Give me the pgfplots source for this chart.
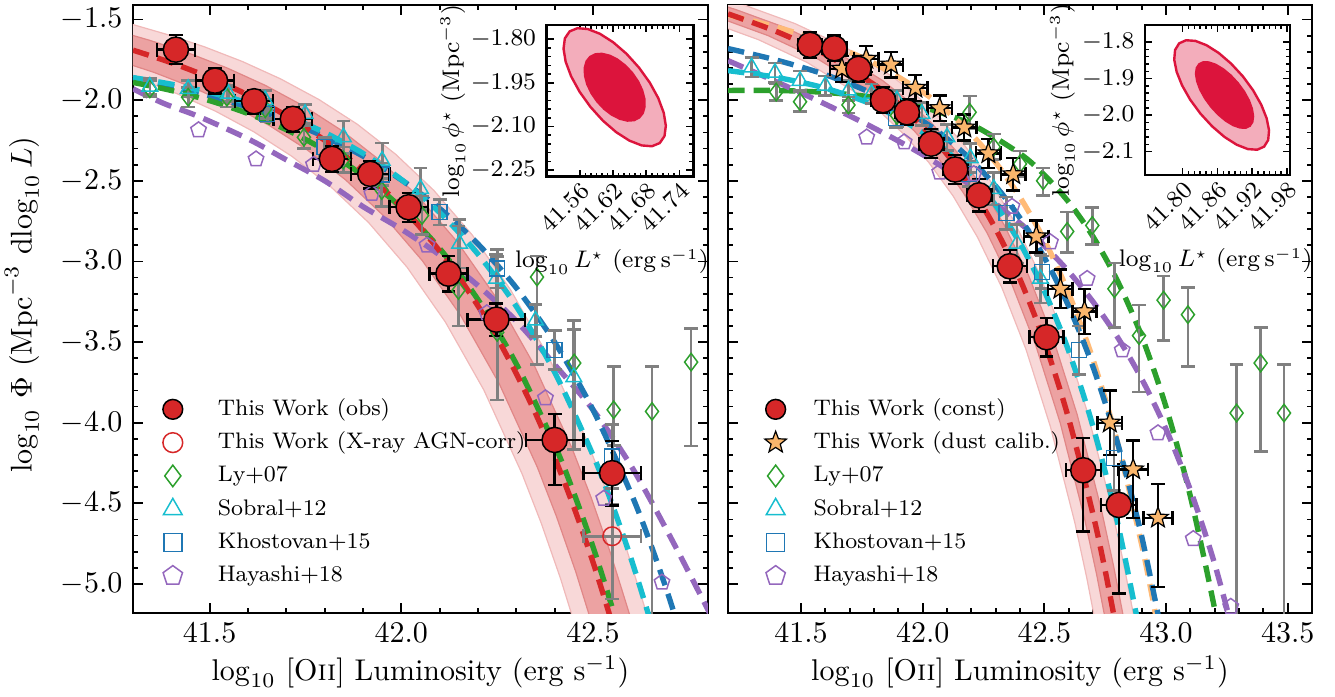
\documentclass[border=0pt]{standalone}
\usepackage{pgfplots}
\usepackage{pgfplotstable}
\pgfplotsset{compat=1.18}
\usetikzlibrary{plotmarks}

\definecolor{tred}{HTML}{D62728}
\definecolor{tgreen}{HTML}{2CA02C}
\definecolor{tcyan}{HTML}{17BECF}
\definecolor{tblue}{HTML}{1F77B4}
\definecolor{tpurple}{HTML}{9467BD}
\definecolor{torange}{HTML}{FFBB78}
\definecolor{tstar}{RGB}{250,182,108}
\definecolor{crimson}{HTML}{DC143C}
\definecolor{errgray}{HTML}{808080}
\definecolor{bandlight}{RGB}{248,216,216}
\definecolor{bandlightedge}{RGB}{240,185,185}
\definecolor{banddark}{RGB}{236,162,162}
\definecolor{banddarkedge}{RGB}{225,135,135}

\pgfdeclareplotmark{fstar}{%
  \pgfpathmoveto{\pgfqpointpolar{90}{\pgfplotmarksize}}%
  \pgfpathlineto{\pgfqpointpolar{126}{0.42\pgfplotmarksize}}%
  \pgfpathlineto{\pgfqpointpolar{162}{\pgfplotmarksize}}%
  \pgfpathlineto{\pgfqpointpolar{198}{0.42\pgfplotmarksize}}%
  \pgfpathlineto{\pgfqpointpolar{234}{\pgfplotmarksize}}%
  \pgfpathlineto{\pgfqpointpolar{270}{0.42\pgfplotmarksize}}%
  \pgfpathlineto{\pgfqpointpolar{306}{\pgfplotmarksize}}%
  \pgfpathlineto{\pgfqpointpolar{342}{0.42\pgfplotmarksize}}%
  \pgfpathlineto{\pgfqpointpolar{18}{\pgfplotmarksize}}%
  \pgfpathlineto{\pgfqpointpolar{54}{0.42\pgfplotmarksize}}%
  \pgfpathclose\pgfusepathqfillstroke}

\pgfplotsset{
  mainax/.style={
    scale only axis, height=202.67pt, anchor=north west,
    ymin=-5.18, ymax=-1.41,
    ytick={-5,-4.5,-4,-3.5,-3,-2.5,-2,-1.5},
    minor x tick num=4, minor y tick num=4,
    tick align=inside,
    major tick length=3.2pt, minor tick length=1.8pt,
    every tick/.style={black, line width=0.6pt},
    axis line style={line width=0.9pt},
    tick label style={font=\fontsize{10}{12}\selectfont},
    label style={font=\fontsize{10}{12}\selectfont},
    xticklabel style={/pgf/number format/.cd, fixed, fixed zerofill, precision=1},
    yticklabel style={/pgf/number format/.cd, fixed, fixed zerofill, precision=1},
    scaled ticks=false,
    xlabel={$\log_{10}$ [O\textsc{ii}] Luminosity (erg s$^{-1}$)},
    xlabel style={at={(axis description cs:0.5,-0.097)}, anchor=center},
    legend cell align=left,
    legend style={draw=none, fill=none, font=\fontsize{7.5}{9}\selectfont,
      anchor=south west, inner sep=0pt, row sep=0.9pt,
      nodes={inner sep=1.5pt, text height=5.6pt, text depth=1.6pt}},
  },
  inset/.style={
    scale only axis, anchor=north west, clip=false,
    axis background/.style={fill=white},
    tick align=inside,
    minor x tick num=5, minor y tick num=4,
    major tick length=2.4pt, minor tick length=1.3pt,
    every tick/.style={black, line width=0.5pt},
    axis line style={line width=0.9pt},
    tick label style={font=\fontsize{7.8}{9}\selectfont},
    label style={font=\fontsize{7.8}{9}\selectfont},
    xticklabel style={rotate=45, anchor=north east, inner sep=1pt,
      /pgf/number format/.cd, fixed, fixed zerofill, precision=2},
    scaled ticks=false,
    xlabel={$\log_{10}L^{\star}\ (\mathrm{erg\,s^{-1}})$},
  },
  curve/.style={forget plot, smooth, line width=1.8pt, dash pattern=on 5.5pt off 3pt},
  errbl/.style={
    /pgfplots/error bars/x dir=both, /pgfplots/error bars/x explicit,
    /pgfplots/error bars/y dir=both, /pgfplots/error bars/y explicit,
    /pgfplots/error bars/error bar style={draw=black, line width=0.8pt, solid},
    /pgfplots/error bars/error mark options={rotate=90, draw=black, line width=0.8pt, mark size=2.3pt, solid}},
  errgr/.style={
    /pgfplots/error bars/y dir=both, /pgfplots/error bars/y explicit,
    /pgfplots/error bars/error bar style={draw=errgray, line width=0.9pt, solid},
    /pgfplots/error bars/error mark options={rotate=90, draw=errgray, line width=0.9pt, mark size=2.3pt, solid}},
  errgrx/.style={
    /pgfplots/error bars/x dir=both, /pgfplots/error bars/x explicit,
    /pgfplots/error bars/y dir=both, /pgfplots/error bars/y explicit,
    /pgfplots/error bars/error bar style={draw=errgray, line width=0.9pt, solid},
    /pgfplots/error bars/error mark options={rotate=90, draw=errgray, line width=0.9pt, mark size=2.3pt, solid}},
}

% ---------------- data: left panel ----------------
\pgfplotstableread{
x y ex p m
41.412 -1.687 0.05 0.09 0.09
41.514 -1.879 0.05 0.08 0.08
41.616 -2.007 0.05 0.07 0.08
41.717 -2.116 0.05 0.07 0.08
41.819 -2.364 0.05 0.08 0.08
41.919 -2.457 0.05 0.08 0.09
42.019 -2.664 0.05 0.09 0.09
42.123 -3.076 0.05 0.11 0.11
42.248 -3.361 0.075 0.10 0.10
42.400 -4.107 0.075 0.16 0.28
42.550 -4.313 0.075 0.20 0.20
}\obsL
\pgfplotstableread{
x y ex p m
42.550 -4.704 0.075 0.20 0.39
}\agnL
\pgfplotstableread{
x y p m
41.344 -1.930 0.05 0.05
41.444 -1.982 0.06 0.06
41.545 -1.982 0.06 0.06
41.645 -2.054 0.06 0.06
41.746 -2.230 0.07 0.07
41.849 -2.370 0.08 0.08
41.949 -2.560 0.10 0.10
42.054 -2.715 0.12 0.12
42.149 -3.180 0.40 0.22
42.250 -3.440 0.47 0.42
42.354 -3.097 0.13 0.54
42.451 -3.630 0.21 0.54
42.554 -3.920 0.27 0.22
42.654 -3.930 0.28 1.50
42.756 -3.624 0.21 0.52
}\lyL
\pgfplotstableread{
x y p m
41.344 -1.916 0.05 0.05
41.444 -1.930 0.05 0.05
41.549 -1.960 0.05 0.05
41.645 -2.000 0.06 0.06
41.749 -2.085 0.06 0.06
41.849 -2.230 0.10 0.10
41.950 -2.375 0.11 0.11
42.050 -2.550 0.13 0.13
42.152 -2.890 0.15 0.15
42.248 -3.107 0.15 0.15
42.350 -3.366 0.10 0.10
42.450 -3.717 0.35 0.45
}\soL
\pgfplotstableread{
x y p m
41.65 -2.085 0.05 0.05
41.80 -2.290 0.06 0.06
41.95 -2.460 0.07 0.07
42.10 -2.694 0.08 0.08
42.25 -3.045 0.12 0.12
42.40 -3.550 0.12 0.12
42.55 -4.210 0.20 0.20
}\khL
\pgfplotstableread{
x y
41.471 -2.185
41.621 -2.366
41.771 -2.400
41.923 -2.580
42.067 -2.900
42.223 -3.320
42.376 -3.847
42.528 -4.470
42.680 -4.990
}\haL

% ---------------- data: right panel ----------------
\pgfplotstableread{
x y ex p m
41.537 -1.657 0.05 0.08 0.08
41.637 -1.678 0.05 0.08 0.08
41.736 -1.806 0.05 0.08 0.08
41.837 -2.000 0.05 0.08 0.08
41.935 -2.075 0.05 0.08 0.08
42.035 -2.270 0.05 0.09 0.09
42.134 -2.430 0.05 0.09 0.09
42.232 -2.590 0.05 0.10 0.10
42.358 -3.030 0.07 0.10 0.10
42.509 -3.470 0.07 0.12 0.12
42.660 -4.295 0.072 0.20 0.38
42.806 -4.510 0.072 0.24 0.55
}\obsR
\pgfplotstableread{
x y ex p m
41.668 -1.806 0.05 0.08 0.08
41.768 -1.744 0.05 0.08 0.08
41.870 -1.780 0.05 0.08 0.08
41.970 -1.924 0.05 0.08 0.08
42.070 -2.050 0.05 0.08 0.08
42.171 -2.170 0.05 0.08 0.08
42.270 -2.330 0.05 0.09 0.09
42.372 -2.460 0.05 0.10 0.10
42.467 -2.845 0.05 0.10 0.10
42.566 -3.170 0.05 0.12 0.12
42.665 -3.310 0.05 0.14 0.14
42.769 -4.000 0.05 0.20 0.20
42.865 -4.290 0.06 0.18 0.30
42.967 -4.590 0.06 0.21 0.43
}\dustR
\pgfplotstableread{
x y p m
41.398 -1.950 0.05 0.05
41.496 -2.010 0.06 0.06
41.695 -2.030 0.05 0.05
41.894 -2.095 0.07 0.07
42.193 -2.075 0.10 0.10
42.292 -2.290 0.08 0.08
42.400 -2.395 0.08 0.08
42.495 -2.500 0.08 0.09
42.594 -2.814 0.12 0.13
42.697 -2.777 0.11 0.12
42.788 -3.170 0.16 0.24
42.889 -3.460 0.19 0.35
42.990 -3.240 0.15 0.25
43.090 -3.330 0.17 0.32
43.290 -3.940 0.30 1.50
43.389 -3.630 0.22 0.55
43.485 -3.940 0.30 1.50
}\lyR
\pgfplotstableread{
x y p m
41.297 -1.796 0.06 0.06
41.393 -1.830 0.06 0.06
41.496 -1.880 0.06 0.06
41.600 -1.910 0.06 0.06
41.695 -1.940 0.06 0.06
41.790 -1.960 0.06 0.06
41.894 -2.000 0.06 0.06
41.997 -2.085 0.07 0.07
42.100 -2.230 0.08 0.08
42.196 -2.360 0.09 0.09
42.292 -2.550 0.10 0.10
42.388 -2.890 0.12 0.12
42.484 -3.107 0.15 0.15
}\soR
\pgfplotstableread{
x y p m
41.890 -2.110 0.06 0.06
42.040 -2.250 0.07 0.07
42.190 -2.457 0.08 0.08
42.344 -2.700 0.10 0.10
42.490 -3.066 0.10 0.10
42.642 -3.550 0.15 0.15
42.786 -4.220 0.20 0.20
}\khR
\pgfplotstableread{
x y
41.770 -2.230
41.924 -2.260
42.070 -2.447
42.210 -2.457
42.367 -2.660
42.525 -2.880
42.676 -3.107
42.820 -3.550
42.967 -4.064
43.112 -4.720
43.266 -5.140
}\haR

\begin{document}
\begin{tikzpicture}
\useasboundingbox (0,0) rectangle (445pt,-232.33pt);

% =================== LEFT PANEL ===================
\begin{axis}[mainax, at={(44.33pt,-1.67pt)}, width=191.67pt,
  xmin=41.3, xmax=42.8, xtick={41.5,42.0,42.5},
  ylabel={$\log_{10}\,\Phi\ (\mathrm{Mpc}^{-3}\ \mathrm{dlog}_{10}\,L)$},
  ylabel style={at={(axis description cs:-0.193,0.507)}, anchor=center},
  legend style={at={(0.051,0.035)}, /tikz/every odd column/.append style={column sep=10.2pt}}]
% confidence bands
\addplot[forget plot, fill=bandlight, draw=bandlightedge, line width=0.4pt] coordinates {
(41.285,-1.521)(41.385,-1.590)(41.485,-1.668)(41.585,-1.760)(41.685,-1.868)(41.785,-1.996)(41.885,-2.149)(41.985,-2.335)(42.085,-2.560)(42.185,-2.836)(42.285,-3.176)(42.385,-3.596)(42.485,-4.117)(42.535,-4.423)(42.585,-4.764)(42.635,-5.146)(42.685,-5.573)
(42.515,-5.773)(42.465,-5.346)(42.415,-4.964)(42.365,-4.623)(42.315,-4.317)(42.215,-3.796)(42.115,-3.376)(42.015,-3.036)(41.915,-2.760)(41.815,-2.535)(41.715,-2.349)(41.615,-2.196)(41.515,-2.068)(41.415,-1.960)(41.315,-1.868)(41.215,-1.790)(41.115,-1.721)
} -- cycle;
\addplot[forget plot, fill=banddark, draw=banddarkedge, line width=0.4pt] coordinates {
(41.245,-1.561)(41.345,-1.630)(41.445,-1.708)(41.545,-1.800)(41.645,-1.908)(41.745,-2.036)(41.845,-2.189)(41.945,-2.375)(42.045,-2.600)(42.145,-2.876)(42.245,-3.216)(42.345,-3.636)(42.445,-4.157)(42.495,-4.463)(42.545,-4.804)(42.595,-5.186)(42.645,-5.613)
(42.555,-5.733)(42.505,-5.306)(42.455,-4.924)(42.405,-4.583)(42.355,-4.277)(42.255,-3.756)(42.155,-3.336)(42.055,-2.996)(41.955,-2.720)(41.855,-2.495)(41.755,-2.309)(41.655,-2.156)(41.555,-2.028)(41.455,-1.920)(41.355,-1.828)(41.255,-1.750)(41.155,-1.681)
} -- cycle;
% fitted curves
\addplot[curve, tpurple] coordinates {(41.3,-1.93)(41.38,-2.02)(41.47,-2.10)(41.6,-2.24)(41.7,-2.37)(41.8,-2.50)(41.9,-2.66)(42.0,-2.80)(42.1,-2.96)(42.2,-3.15)(42.3,-3.37)(42.4,-3.64)(42.5,-3.92)(42.6,-4.27)(42.7,-4.70)(42.8,-5.16)(42.85,-5.40)};
\addplot[curve, tblue] coordinates {(41.3,-1.862)(41.4,-1.914)(41.5,-1.974)(41.6,-2.044)(41.7,-2.127)(41.8,-2.227)(41.9,-2.347)(42.0,-2.494)(42.1,-2.672)(42.2,-2.892)(42.3,-3.164)(42.4,-3.501)(42.5,-3.920)(42.6,-4.442)(42.65,-4.750)(42.7,-5.094)(42.75,-5.480)};
\addplot[curve, tcyan] coordinates {(41.3,-1.860)(41.4,-1.901)(41.5,-1.952)(41.6,-2.017)(41.7,-2.098)(41.8,-2.201)(41.9,-2.330)(42.0,-2.492)(42.1,-2.697)(42.2,-2.955)(42.3,-3.279)(42.4,-3.687)(42.5,-4.201)(42.55,-4.506)(42.6,-4.848)(42.65,-5.232)(42.7,-5.663)};
\addplot[curve, tgreen] coordinates {(41.3,-1.890)(41.4,-1.940)(41.5,-2.003)(41.6,-2.083)(41.7,-2.183)(41.8,-2.310)(41.9,-2.468)(42.0,-2.668)(42.1,-2.920)(42.2,-3.237)(42.3,-3.636)(42.4,-4.138)(42.45,-4.436)(42.5,-4.770)(42.55,-5.146)(42.6,-5.567)};
\addplot[curve, tred] coordinates {(41.3,-1.690)(41.4,-1.768)(41.5,-1.860)(41.6,-1.968)(41.7,-2.096)(41.8,-2.249)(41.9,-2.435)(42.0,-2.660)(42.05,-2.791)(42.1,-2.936)(42.15,-3.097)(42.2,-3.276)(42.25,-3.474)(42.3,-3.696)(42.35,-3.942)(42.4,-4.217)(42.45,-4.523)(42.5,-4.864)(42.55,-5.246)(42.6,-5.673)};
% literature points
\addplot[forget plot, only marks, mark=diamond, mark size=2.9pt, mark options={draw=tgreen, fill=none, line width=0.5pt}, errgr] table[x=x,y=y,y error plus=p,y error minus=m] {\lyL};
\addplot[forget plot, only marks, mark=triangle, mark size=3pt, mark options={draw=tcyan, fill=none, line width=0.5pt}, errgr] table[x=x,y=y,y error plus=p,y error minus=m] {\soL};
\addplot[forget plot, only marks, mark=square, mark size=2.5pt, mark options={draw=tblue, fill=none, line width=0.5pt}, errgr] table[x=x,y=y,y error plus=p,y error minus=m] {\khL};
\addplot[forget plot, only marks, mark=pentagon, mark size=2.7pt, mark options={draw=tpurple, fill=none, line width=0.5pt}] table[x=x,y=y] {\haL};
% this work
\addplot[forget plot, only marks, mark=o, mark size=3.1pt, mark options={draw=tred, line width=0.5pt}, errgrx] table[x=x,y=y,x error=ex,y error plus=p,y error minus=m] {\agnL};
\addplot[forget plot, only marks, mark=*, mark size=4.2pt, mark options={fill=tred, draw=black, line width=0.5pt}, errbl] table[x=x,y=y,x error=ex,y error plus=p,y error minus=m] {\obsL};
% legend
\addlegendimage{only marks, mark=*, mark size=3.3pt, mark options={fill=tred, draw=black, line width=0.5pt}}
\addlegendentry{This Work (obs)}
\addlegendimage{only marks, mark=o, mark size=3.3pt, mark options={draw=tred, line width=0.5pt}}
\addlegendentry{This Work (X-ray AGN-corr)}
\addlegendimage{only marks, mark=diamond, mark size=3.6pt, mark options={draw=tgreen, line width=0.5pt}}
\addlegendentry{Ly+07}
\addlegendimage{only marks, mark=triangle, mark size=3.6pt, mark options={draw=tcyan, line width=0.5pt}}
\addlegendentry{Sobral+12}
\addlegendimage{only marks, mark=square, mark size=3pt, mark options={draw=tblue, line width=0.5pt}}
\addlegendentry{Khostovan+15}
\addlegendimage{only marks, mark=pentagon, mark size=3.4pt, mark options={draw=tpurple, line width=0.5pt}}
\addlegendentry{Hayashi+18}
\end{axis}

% left inset
\begin{axis}[inset, at={(182.2pt,-8.33pt)}, width=48.9pt, height=50.6pt,
  xmin=41.50, xmax=41.765, ymin=-2.273, ymax=-1.751,
  xtick={41.56,41.62,41.68,41.74}, ytick={-2.25,-2.10,-1.95,-1.80},
  yticklabel style={/pgf/number format/.cd, fixed, fixed zerofill, precision=2},
  xlabel style={at={(axis description cs:0.445,-0.56)}, anchor=center}]
\addplot[forget plot, fill=crimson!35, draw=crimson, line width=0.8pt] coordinates {
(41.7044,-2.1570)(41.6903,-2.1680)(41.6716,-2.1651)(41.6496,-2.1487)(41.6258,-2.1197)(41.6017,-2.0801)(41.5792,-2.0327)(41.5596,-1.9807)(41.5443,-1.9276)(41.5344,-1.8771)(41.5306,-1.8326)(41.5330,-1.7971)(41.5416,-1.7730)(41.5557,-1.7620)(41.5744,-1.7649)(41.5964,-1.7813)(41.6202,-1.8103)(41.6443,-1.8499)(41.6668,-1.8973)(41.6864,-1.9493)(41.7017,-2.0024)(41.7116,-2.0529)(41.7154,-2.0974)(41.7130,-2.1329)
} -- cycle;
\addplot[forget plot, fill=crimson, draw=none] coordinates {
(41.6686,-2.0726)(41.6585,-2.0823)(41.6459,-2.0839)(41.6318,-2.0774)(41.6170,-2.0633)(41.6027,-2.0425)(41.5898,-2.0164)(41.5791,-1.9868)(41.5714,-1.9557)(41.5672,-1.9252)(41.5669,-1.8975)(41.5703,-1.8743)(41.5774,-1.8574)(41.5875,-1.8477)(41.6001,-1.8461)(41.6142,-1.8526)(41.6290,-1.8667)(41.6433,-1.8875)(41.6562,-1.9136)(41.6669,-1.9432)(41.6746,-1.9743)(41.6788,-2.0048)(41.6791,-2.0325)(41.6757,-2.0557)
} -- cycle;
\node[rotate=90, anchor=center, font=\fontsize{7.8}{9}\selectfont] at (axis description cs:-0.64,0.5) {$\log_{10}\phi^{\star}\ (\mathrm{Mpc}^{-3})$};
\end{axis}

% =================== RIGHT PANEL ===================
\begin{axis}[mainax, at={(242.67pt,-1.67pt)}, width=194.67pt,
  xmin=41.2, xmax=43.6, xtick={41.5,42.0,42.5,43.0,43.5},
  yticklabels={},
  legend style={at={(0.062,0.035)}, /tikz/every odd column/.append style={column sep=7.5pt}}]
\addplot[forget plot, fill=bandlight, draw=bandlightedge, line width=0.4pt] coordinates {
(41.175,-1.367)(41.275,-1.415)(41.475,-1.525)(41.675,-1.666)(41.875,-1.853)(41.975,-1.972)(42.075,-2.115)(42.175,-2.286)(42.275,-2.494)(42.375,-2.749)(42.475,-3.061)(42.575,-3.447)(42.675,-3.925)(42.775,-4.518)(42.825,-4.867)(42.875,-5.258)(42.925,-5.694)
(42.775,-5.794)(42.725,-5.358)(42.675,-4.967)(42.625,-4.618)(42.525,-4.025)(42.425,-3.547)(42.325,-3.161)(42.225,-2.849)(42.125,-2.594)(42.025,-2.386)(41.925,-2.215)(41.825,-2.072)(41.725,-1.953)(41.525,-1.766)(41.325,-1.625)(41.125,-1.515)(41.025,-1.467)
} -- cycle;
\addplot[forget plot, fill=banddark, draw=banddarkedge, line width=0.4pt] coordinates {
(41.135,-1.392)(41.235,-1.440)(41.435,-1.550)(41.635,-1.691)(41.835,-1.878)(41.935,-1.997)(42.035,-2.140)(42.135,-2.311)(42.235,-2.519)(42.335,-2.774)(42.435,-3.086)(42.535,-3.472)(42.635,-3.950)(42.735,-4.543)(42.785,-4.892)(42.835,-5.283)(42.885,-5.719)
(42.815,-5.769)(42.765,-5.333)(42.715,-4.942)(42.665,-4.593)(42.565,-4.000)(42.465,-3.522)(42.365,-3.136)(42.265,-2.824)(42.165,-2.569)(42.065,-2.361)(41.965,-2.190)(41.865,-2.047)(41.765,-1.928)(41.565,-1.741)(41.365,-1.600)(41.165,-1.490)(41.065,-1.442)
} -- cycle;
\addplot[curve, tgreen] coordinates {(41.2,-1.940)(41.4,-1.940)(41.6,-1.952)(41.8,-1.983)(42.0,-2.043)(42.2,-2.150)(42.4,-2.332)(42.5,-2.464)(42.6,-2.632)(42.7,-2.846)(42.8,-3.119)(42.9,-3.464)(43.0,-3.902)(43.1,-4.456)(43.2,-5.155)(43.25,-5.571)};
\addplot[curve, tpurple] coordinates {(41.2,-1.755)(41.4,-1.887)(41.6,-2.025)(41.8,-2.173)(42.0,-2.338)(42.2,-2.530)(42.4,-2.763)(42.5,-2.903)(42.6,-3.063)(42.7,-3.250)(42.8,-3.468)(42.9,-3.728)(43.0,-4.040)(43.1,-4.417)(43.2,-4.876)(43.3,-5.438)};
\addplot[curve, torange] coordinates {(41.2,-1.472)(41.4,-1.547)(41.6,-1.643)(41.8,-1.771)(42.0,-1.950)(42.1,-2.068)(42.2,-2.211)(42.3,-2.387)(42.4,-2.602)(42.5,-2.868)(42.6,-3.198)(42.7,-3.608)(42.8,-4.119)(42.9,-4.756)(42.95,-5.133)(43.0,-5.555)};
\addplot[curve, tblue] coordinates {(41.2,-1.680)(41.4,-1.752)(41.6,-1.842)(41.8,-1.963)(42.0,-2.130)(42.1,-2.239)(42.2,-2.372)(42.3,-2.533)(42.4,-2.731)(42.5,-2.976)(42.6,-3.278)(42.7,-3.654)(42.8,-4.122)(42.9,-4.705)(43.0,-5.435)};
\addplot[curve, tcyan] coordinates {(41.2,-1.817)(41.4,-1.859)(41.6,-1.926)(41.8,-2.032)(42.0,-2.200)(42.1,-2.317)(42.2,-2.466)(42.3,-2.652)(42.4,-2.887)(42.5,-3.183)(42.6,-3.555)(42.7,-4.024)(42.8,-4.614)(42.9,-5.357)};
\addplot[curve, tred] coordinates {(41.2,-1.465)(41.4,-1.575)(41.6,-1.716)(41.8,-1.903)(41.9,-2.022)(42.0,-2.165)(42.1,-2.336)(42.2,-2.544)(42.3,-2.799)(42.4,-3.111)(42.5,-3.497)(42.6,-3.975)(42.7,-4.568)(42.75,-4.917)(42.8,-5.308)};
\addplot[forget plot, only marks, mark=diamond, mark size=2.9pt, mark options={draw=tgreen, fill=none, line width=0.5pt}, errgr] table[x=x,y=y,y error plus=p,y error minus=m] {\lyR};
\addplot[forget plot, only marks, mark=triangle, mark size=3pt, mark options={draw=tcyan, fill=none, line width=0.5pt}, errgr] table[x=x,y=y,y error plus=p,y error minus=m] {\soR};
\addplot[forget plot, only marks, mark=square, mark size=2.5pt, mark options={draw=tblue, fill=none, line width=0.5pt}, errgr] table[x=x,y=y,y error plus=p,y error minus=m] {\khR};
\addplot[forget plot, only marks, mark=pentagon, mark size=2.7pt, mark options={draw=tpurple, fill=none, line width=0.5pt}] table[x=x,y=y] {\haR};
\addplot[forget plot, only marks, mark=fstar, mark size=3.6pt, mark options={fill=tstar, draw=black, line width=0.4pt}, errbl] table[x=x,y=y,x error=ex,y error plus=p,y error minus=m] {\dustR};
\addplot[forget plot, only marks, mark=*, mark size=4.2pt, mark options={fill=tred, draw=black, line width=0.5pt}, errbl] table[x=x,y=y,x error=ex,y error plus=p,y error minus=m] {\obsR};
\addlegendimage{only marks, mark=*, mark size=3.3pt, mark options={fill=tred, draw=black, line width=0.5pt}}
\addlegendentry{This Work (const)}
\addlegendimage{only marks, mark=fstar, mark size=3.8pt, mark options={fill=tstar, draw=black, line width=0.4pt}}
\addlegendentry{This Work (dust calib.)}
\addlegendimage{only marks, mark=diamond, mark size=3.6pt, mark options={draw=tgreen, line width=0.5pt}}
\addlegendentry{Ly+07}
\addlegendimage{only marks, mark=triangle, mark size=3.6pt, mark options={draw=tcyan, line width=0.5pt}}
\addlegendentry{Sobral+12}
\addlegendimage{only marks, mark=square, mark size=3pt, mark options={draw=tblue, line width=0.5pt}}
\addlegendentry{Khostovan+15}
\addlegendimage{only marks, mark=pentagon, mark size=3.4pt, mark options={draw=tpurple, line width=0.5pt}}
\addlegendentry{Hayashi+18}
\end{axis}

% right inset
\begin{axis}[inset, at={(381.67pt,-8.33pt)}, width=48.3pt, height=50pt,
  xmin=41.735, xmax=41.985, ymin=-2.164, ymax=-1.753,
  xtick={41.80,41.86,41.92,41.98}, ytick={-2.1,-2.0,-1.9,-1.8},
  yticklabel style={/pgf/number format/.cd, fixed, fixed zerofill, precision=1},
  xlabel style={at={(axis description cs:0.488,-0.57)}, anchor=center}]
\addplot[forget plot, fill=crimson!35, draw=crimson, line width=0.8pt] coordinates {
(41.9405,-2.0863)(41.9286,-2.0948)(41.9124,-2.0930)(41.8932,-2.0811)(41.8722,-2.0599)(41.8509,-2.0308)(41.8307,-1.9960)(41.8129,-1.9576)(41.7989,-1.9183)(41.7895,-1.8809)(41.7854,-1.8478)(41.7869,-1.8214)(41.7939,-1.8033)(41.8058,-1.7948)(41.8220,-1.7966)(41.8412,-1.8085)(41.8622,-1.8297)(41.8835,-1.8588)(41.9038,-1.8936)(41.9215,-1.9320)(41.9355,-1.9713)(41.9449,-2.0087)(41.9490,-2.0418)(41.9475,-2.0683)
} -- cycle;
\addplot[forget plot, fill=crimson, draw=none] coordinates {
(41.9172,-2.0317)(41.9094,-2.0376)(41.8989,-2.0372)(41.8867,-2.0305)(41.8735,-2.0180)(41.8602,-2.0005)(41.8477,-1.9791)(41.8369,-1.9555)(41.8284,-1.9311)(41.8230,-1.9076)(41.8209,-1.8867)(41.8224,-1.8698)(41.8272,-1.8579)(41.8351,-1.8520)(41.8455,-1.8524)(41.8577,-1.8591)(41.8709,-1.8716)(41.8842,-1.8891)(41.8967,-1.9105)(41.9076,-1.9341)(41.9160,-1.9585)(41.9214,-1.9820)(41.9235,-2.0029)(41.9221,-2.0198)
} -- cycle;
\node[rotate=90, anchor=center, font=\fontsize{7.8}{9}\selectfont] at (axis description cs:-0.57,0.5) {$\log_{10}\phi^{\star}\ (\mathrm{Mpc}^{-3})$};
\end{axis}
\end{tikzpicture}
\end{document}
